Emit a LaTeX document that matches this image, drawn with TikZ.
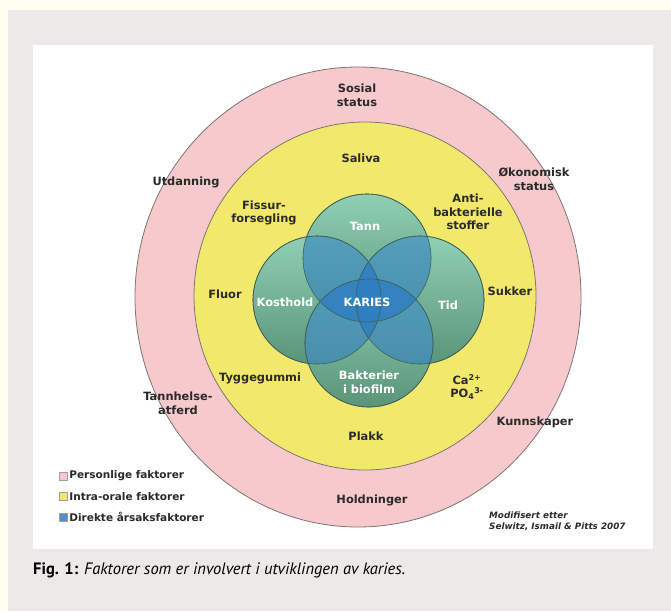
\documentclass[tikz,border=0pt]{standalone}
\usepackage{fontspec}
\newfontfamily\labelfont{DejaVu Sans}
\newfontfamily\capfont{PT Sans}
\usetikzlibrary{positioning}
\definecolor{cream}{HTML}{FFFDF0}
\definecolor{panelgrey}{HTML}{EDE9E8}
\definecolor{ringpink}{HTML}{F6C9CC}
\definecolor{ringyellow}{HTML}{F2E86C}
\definecolor{ringline}{HTML}{7D7474}
\definecolor{venntop}{HTML}{8FD0B4}
\definecolor{vennbottom}{HTML}{5A9479}
\definecolor{vennline}{HTML}{3E5F57}
\definecolor{overlapblue}{HTML}{2F7EC0}
\definecolor{labeltext}{HTML}{2A2A2A}
\tikzset{
x=1pt, y=-1pt, % pixel coordinates, y going down
lbl/.style={font=\labelfont\bfseries\fontsize{11.4}{13.5}\selectfont, text=labeltext, align=center, inner sep=0pt},
inlbl/.style={lbl, text=white}, % labels on the green circles
venn/.style={draw=vennline, line width=0.6pt, top color=venntop, bottom color=vennbottom},
ring/.style={draw=ringline, line width=0.8pt},
keybox/.style={draw=ringline!70, line width=0.4pt, minimum size=8pt, inner sep=0pt},
keytext/.style={font=\labelfont\bfseries\fontsize{10.5}{11}\selectfont, text=labeltext, inner sep=0pt, anchor=west},
}

\begin{document}
\begin{tikzpicture}
  \useasboundingbox (0,0) rectangle (671,611);
  \fill[cream] (0,0) rectangle (671,611);
  \fill[panelgrey] (8,10) rectangle (671,611);
  \fill[white] (33,45) rectangle (653,549);

  % the two rings
  \draw[ring, fill=ringpink] (358,297) ellipse [x radius=223, y radius=230];
  \draw[ring, fill=ringyellow] (365,296) ellipse [x radius=171, y radius=174];

  % the four factor circles
  \coordinate (tannc) at (367,258);
  \coordinate (kostc) at (317,300);
  \coordinate (tidc) at (420,300);
  \coordinate (bakc) at (369,343);
  \foreach \c in {tannc,kostc,tidc,bakc}
    \shade[venn] (\c) circle [radius=64];
  \foreach \a/\b in {tannc/kostc,tannc/tidc,bakc/kostc,bakc/tidc,tannc/bakc,kostc/tidc}{
    \begin{scope}
      \clip (\a) circle [radius=64];
      \fill[overlapblue, fill opacity=0.6] (\b) circle [radius=64];
    \end{scope}
  }
  \foreach \c in {tannc,kostc,tidc,bakc}
    \draw[vennline, line width=0.6pt] (\c) circle [radius=64];

  % personal factors
  \node[lbl] (sosial) at (357,95) {Sosial\\status};
  \node[lbl] (utdanning) at (186,182) {Utdanning};
  \node[lbl] (okonomisk) at (534,179) {Økonomisk\\status};
  \node[lbl] (tannhelse) at (178,403) {Tannhelse-\\atferd};
  \node[lbl] (kunnskaper) at (535,422) {Kunnskaper};
  \node[lbl] (holdninger) at (372,500) {Holdninger};

  % intra-oral factors
  \node[lbl] (saliva) at (361,158) {Saliva};
  \node[lbl] (fissur) at (264,213) {Fissur-\\forsegling};
  \node[lbl] (anti) at (468,212) {Anti-\\bakterielle\\stoffer};
  \node[lbl] (fluor) at (225,294) {Fluor};
  \node[lbl] (sukker) at (510,291) {Sukker};
  \node[lbl] (tygge) at (260,378) {Tyggegummi};
  \node[lbl] (capo) at (467,387) {Ca\textsuperscript{2+}\\PO\textsubscript{4}\textsuperscript{3-}};
  \node[lbl] (plakk) at (366,436) {Plakk};

  % direct causes
  \node[inlbl] (tann) at (365,226) {Tann};
  \node[inlbl] (kosthold) at (285,302) {Kosthold};
  \node[inlbl] (karies) at (367,302) {KARIES};
  \node[inlbl] (tid) at (448,305) {Tid};
  \node[inlbl] (bakterier) at (369,382) {Bakterier\\i biofilm};

  % legend
  \node[keybox, fill=ringpink] (keypink) at (63,476) {};
  \node[keybox, fill=ringyellow, below=12pt of keypink] (keyyellow) {};
  \node[keybox, fill=overlapblue!85, below=12pt of keyyellow] (keyblue) {};
  \node[keytext, right=2pt of keypink] (keypersonal) {Personlige faktorer};
  \node[keytext, right=2pt of keyyellow] (keyoral) {Intra-orale faktorer};
  \node[keytext, right=2pt of keyblue] (keydirect) {Direkte årsaksfaktorer};

  \node[font=\labelfont\bfseries\itshape\fontsize{8.8}{11}\selectfont, text=labeltext, align=left, anchor=west, inner sep=0pt] (source) at (489,521) {Modifisert etter\\Selwitz, Ismail \& Pitts 2007};

  % caption
  \node[font=\capfont\fontsize{16.5}{19}\selectfont, anchor=west, inner sep=0pt] (caption) at (33,570) {\textbf{Fig. 1:} \textit{Faktorer som er involvert i utviklingen av karies.}};
\end{tikzpicture}
\end{document}
